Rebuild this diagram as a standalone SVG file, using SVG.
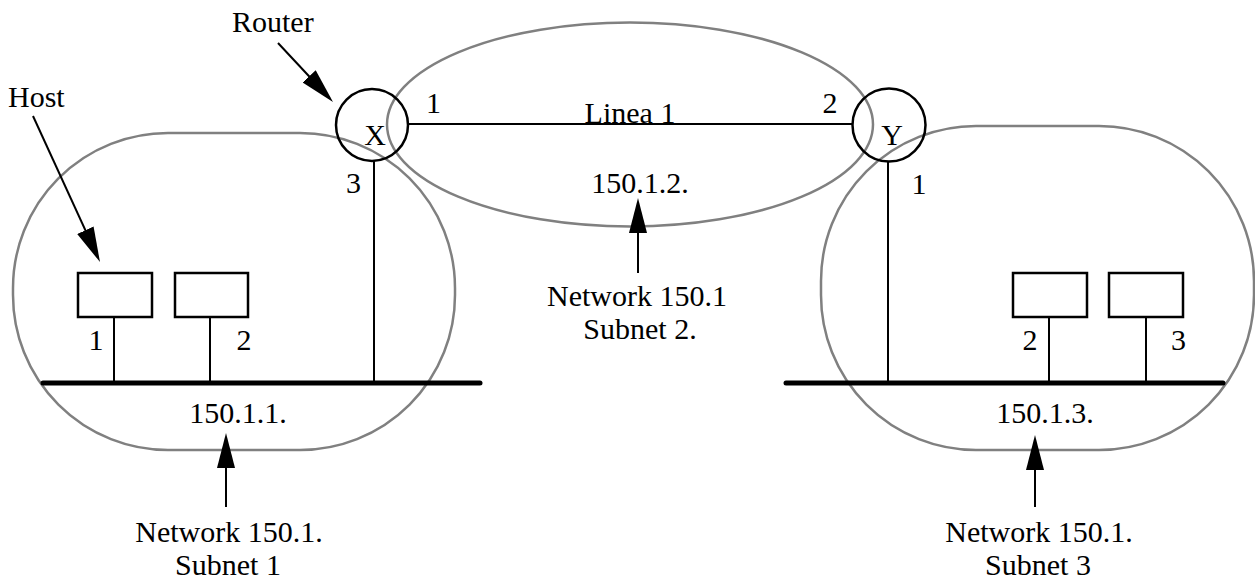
<svg xmlns="http://www.w3.org/2000/svg" width="1255" height="581" viewBox="0 0 1255 581">
<defs>
<style>
.t{font-family:"Liberation Serif","Times New Roman",serif;font-size:30px;fill:#000}
.m{text-anchor:middle}
.sub{fill:none;stroke:#808080;stroke-width:2.5}
.rt{fill:none;stroke:#000;stroke-width:2.5}
.host{fill:#fff;stroke:#000;stroke-width:2.5}
.ln{stroke:#000;stroke-width:2;fill:none}
.bus{stroke:#000;stroke-width:5;stroke-linecap:round}
.ar{stroke:#000;stroke-width:2;fill:none;marker-end:url(#ah)}
</style>
<marker id="ah" markerUnits="userSpaceOnUse" markerWidth="36" markerHeight="18" refX="30" refY="9" orient="auto">
<path d="M0,0 L35,9 L0,18 z" fill="#000"/>
</marker>
</defs>
<rect width="1255" height="581" fill="#fff"/>

<g id="subnet1"><rect class="sub" x="13" y="133" width="442" height="317" rx="155" ry="155"/></g>
<g id="subnet2"><ellipse class="sub" cx="630" cy="124.5" rx="243" ry="102"/></g>
<g id="subnet3"><rect class="sub" x="821" y="126" width="433" height="324" rx="155" ry="155"/></g>

<g id="bus1"><line class="bus" x1="43" y1="383" x2="480" y2="383"/></g>
<g id="bus3"><line class="bus" x1="786" y1="383" x2="1223" y2="383"/></g>

<g id="connectors">
<line class="ln" x1="408" y1="124" x2="853" y2="124"/>
<line class="ln" x1="374" y1="161" x2="374" y2="383"/>
<line class="ln" x1="888" y1="161" x2="888" y2="383"/>
<line class="ln" x1="114" y1="317" x2="114" y2="383"/>
<line class="ln" x1="210" y1="317" x2="210" y2="383"/>
<line class="ln" x1="1049" y1="317" x2="1049" y2="383"/>
<line class="ln" x1="1146" y1="317" x2="1146" y2="383"/>
<line class="ar" x1="278" y1="43" x2="329.6" y2="98.3"/>
<line class="ar" x1="33" y1="116" x2="97.9" y2="257.5"/>
<line class="ar" x1="638" y1="273" x2="638" y2="203"/>
<line class="ar" x1="226" y1="507" x2="226" y2="438"/>
<line class="ar" x1="1035" y1="507" x2="1035" y2="440"/>
</g>

<g id="routerX"><circle class="rt" cx="372" cy="125" r="36"/><text class="t m" x="375" y="145">X</text></g>
<g id="routerY"><circle class="rt" cx="889" cy="125" r="36.5"/><text class="t m" x="892" y="145">Y</text></g>

<g id="host1"><rect class="host" x="78" y="273" width="74" height="44"/></g>
<g id="host2"><rect class="host" x="175" y="273" width="73" height="44"/></g>
<g id="host3"><rect class="host" x="1013" y="273" width="74" height="44"/></g>
<g id="host4"><rect class="host" x="1109" y="273" width="74" height="44"/></g>

<g id="labels">
<text class="t" x="232" y="32">Router</text>
<text class="t" x="8" y="107">Host</text>
<text class="t m" x="433.5" y="113">1</text>
<text class="t m" x="630" y="123">Linea 1</text>
<text class="t m" x="830" y="113">2</text>
<text class="t m" x="353.5" y="193">3</text>
<text class="t m" x="919" y="194">1</text>
<text class="t m" x="640" y="193">150.1.2.</text>
<text class="t m" x="637" y="306">Network 150.1</text>
<text class="t m" x="640" y="339">Subnet 2.</text>
<text class="t m" x="96" y="350">1</text>
<text class="t m" x="244" y="350">2</text>
<text class="t m" x="1030" y="350">2</text>
<text class="t m" x="1178.5" y="350">3</text>
<text class="t m" x="238" y="423">150.1.1.</text>
<text class="t m" x="1045" y="423">150.1.3.</text>
<text class="t m" x="229" y="542">Network 150.1.</text>
<text class="t m" x="228" y="575">Subnet 1</text>
<text class="t m" x="1039" y="542">Network 150.1.</text>
<text class="t m" x="1038" y="575">Subnet 3</text>
</g>
</svg>
